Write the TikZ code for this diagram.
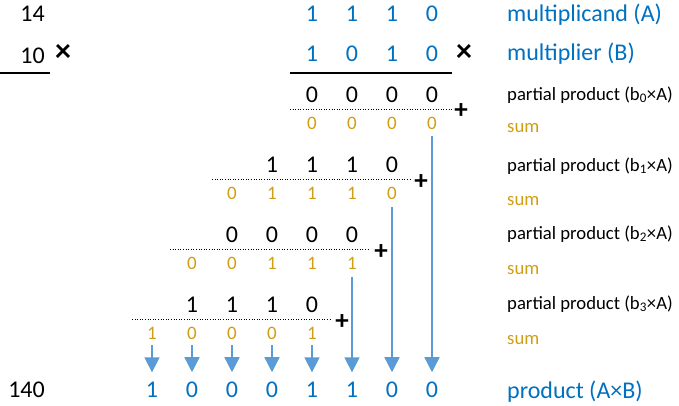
\documentclass[tikz,border=0pt]{standalone}
\usepackage{fontspec}
\setmainfont{Carlito}
\usetikzlibrary{arrows.meta}
\definecolor{blu}{HTML}{0070C0}
\definecolor{gld}{HTML}{D09E12}
\definecolor{arrc}{HTML}{5B9BD5}
\begin{document}
\begin{tikzpicture}[x=1pt,y=-1pt,
  dig/.style={inner sep=0pt, anchor=base},
  bigblue/.style={dig, text=blu, font=\fontsize{24}{28}\selectfont},
  bigblack/.style={dig, text=black, font=\fontsize{24}{28}\selectfont},
  sumdig/.style={dig, text=gld, font=\fontsize{19}{22}\selectfont},
  lblblue/.style={inner sep=0pt, anchor=base west, text=blu, font=\fontsize{24}{28}\selectfont},
  lblblack/.style={inner sep=0pt, anchor=base west, text=black, font=\fontsize{18.7}{22}\selectfont},
  lblgold/.style={inner sep=0pt, anchor=base west, text=gld, font=\fontsize{18.7}{22}\selectfont},
  leftnum/.style={inner sep=0pt, anchor=base east, text=black, font=\fontsize{24}{28}\selectfont},
  timessign/.style={inner sep=0pt, text=black, font=\fontsize{32}{36}\selectfont\bfseries},
  plussign/.style={inner sep=0pt, text=black, font=\fontsize{27}{30}\selectfont\bfseries},
  dotrule/.style={line width=1pt, dash pattern=on 1pt off 1.6pt},
  solidrule/.style={line width=2pt},
  arr/.style={draw=arrc, line width=1.4pt, -{Triangle[width=15pt,length=15pt]}, arrc}
]
\useasboundingbox (0,0) rectangle (679,405);

% left decimal column
\node[leftnum] (n14) at (45,21) {14};
\node[leftnum] (n10) at (45,63) {10};
\node[timessign] (lx) at (63,53) {×};
\draw[solidrule] (0,73) -- (50,73);
\node[leftnum] (n140) at (45,397) {140};

% multiplicand and multiplier
\foreach \d [count=\i from 5] in {1,1,1,0} \node[bigblue] (a\i) at ({112+40*\i},21) {\d};
\foreach \d [count=\i from 5] in {1,0,1,0} \node[bigblue] (b\i) at ({112+40*\i},61) {\d};
\node[timessign] (rx) at (464,53) {×};
\draw[solidrule] (290,73) -- (452,73);

% partial product 0 and sum
\foreach \d [count=\i from 5] in {0,0,0,0} \node[bigblack] (pa\i) at ({112+40*\i},102) {\d};
\draw[dotrule] (290,109) -- (452,109);
\node[plussign] (plus0) at (461,111) {+};
\foreach \d [count=\i from 5] in {0,0,0,0} \node[sumdig] (sa\i) at ({112+40*\i},129) {\d};

% partial product 1 and sum
\foreach \d [count=\i from 4] in {1,1,1,0} \node[bigblack] (pb\i) at ({112+40*\i},172) {\d};
\draw[dotrule] (212,179) -- (410,179);
\node[plussign] (plus1) at (421,182) {+};
\foreach \d [count=\i from 3] in {0,1,1,1,0} \node[sumdig] (sb\i) at ({112+40*\i},199) {\d};

% partial product 2 and sum
\foreach \d [count=\i from 3] in {0,0,0,0} \node[bigblack] (pc\i) at ({112+40*\i},242) {\d};
\draw[dotrule] (170,249) -- (370,249);
\node[plussign] (plus2) at (381,252) {+};
\foreach \d [count=\i from 2] in {0,0,1,1,1} \node[sumdig] (sc\i) at ({112+40*\i},269) {\d};

% partial product 3 and sum
\foreach \d [count=\i from 2] in {1,1,1,0} \node[bigblack] (pd\i) at ({112+40*\i},312) {\d};
\draw[dotrule] (132,319) -- (330,319);
\node[plussign] (plus3) at (342,322) {+};
\foreach \d [count=\i from 1] in {1,0,0,0,1} \node[sumdig] (sd\i) at ({112+40*\i},339) {\d};

% product
\foreach \d [count=\i from 1] in {1,0,0,0,1,1,0,0} \node[bigblue] (p\i) at ({112+40*\i},397) {\d};

% arrows
\draw[arr, shorten <=7pt, shorten >=9pt] (sa8.south) -- (p8.north);
\draw[arr, shorten <=8pt, shorten >=9pt] (sb7.south) -- (p7.north);
\draw[arr, shorten <=8pt, shorten >=9pt] (sc6.south) -- (p6.north);
\foreach \i in {1,...,5} \draw[arr, shorten <=6pt, shorten >=9pt] (sd\i.south) -- (p\i.north);

% labels
\node[lblblue] (lA) at (507,21) {multiplicand (A)};
\node[lblblue] (lB) at (507,60) {multiplier (B)};
\node[lblblack] (l0) at (507,100) {partial product (b\textsubscript{0}×A)};
\node[lblgold] (s0) at (507,132) {sum};
\node[lblblack] (l1) at (507,171) {partial product (b\textsubscript{1}×A)};
\node[lblgold] (s1) at (507,205) {sum};
\node[lblblack] (l2) at (507,239) {partial product (b\textsubscript{2}×A)};
\node[lblgold] (s2) at (507,274) {sum};
\node[lblblack] (l3) at (507,309) {partial product (b\textsubscript{3}×A)};
\node[lblgold] (s3) at (507,344) {sum};
\node[lblblue] (lP) at (507,398) {product (A×B)};
\end{tikzpicture}
\end{document}
